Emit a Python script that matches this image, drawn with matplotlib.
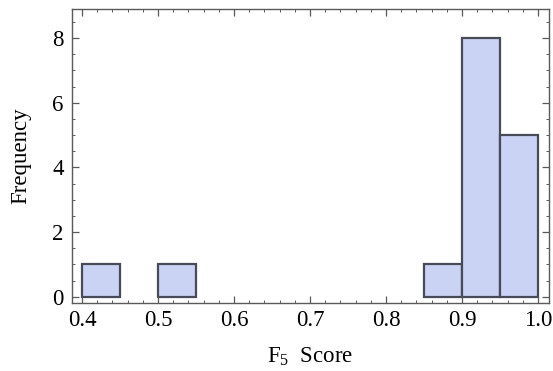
import numpy as np
import matplotlib.pyplot as plt
from matplotlib.ticker import MultipleLocator

# histogram bins (left edges) and counts
bin_edges = [0.40, 0.45, 0.50, 0.55, 0.60, 0.65, 0.70, 0.75, 0.80, 0.85, 0.90, 0.95, 1.00]
counts = [1, 0, 1, 0, 0, 0, 0, 0, 0, 1, 8, 5]
xticks = [0.4, 0.5, 0.6, 0.7, 0.8, 0.9, 1.0]
xticklabels = ['0.4', '0.5', '0.6', '0.7', '0.8', '0.9', '1.0']

plt.rcParams['font.family'] = 'Liberation Serif'
plt.rcParams['mathtext.fontset'] = 'custom'
plt.rcParams['mathtext.rm'] = 'Liberation Serif'
plt.rcParams['mathtext.it'] = 'Liberation Serif'

fig = plt.figure(figsize=(5.53, 3.71), dpi=100)
ax = fig.add_axes([0.1302, 0.1841, 0.8626, 0.7909])

lefts = np.array(bin_edges[:-1])
widths = np.diff(bin_edges)
for l, w, c in zip(lefts, widths, counts):
    if c > 0:
        ax.bar(l, c, width=w, align='edge', color='#cbd3f4',
               edgecolor='#474b57', linewidth=1.6)

ax.set_xlim(0.3868, 1.0145)
ax.set_ylim(-0.186, 8.89)
ax.xaxis.set_minor_locator(MultipleLocator(0.02))
ax.yaxis.set_major_locator(MultipleLocator(2))
ax.yaxis.set_minor_locator(MultipleLocator(0.5))
ax.set_xticks(xticks)
ax.set_xticklabels(xticklabels)

for s in ax.spines.values():
    s.set_color('#5a5a5a')
    s.set_linewidth(1.0)
ax.tick_params(which='both', direction='in', top=True, right=True,
               color='#5a5a5a', labelsize=16.5, labelcolor='black')
ax.tick_params(axis='x', pad=5)
ax.tick_params(axis='y', pad=6)
ax.tick_params(which='major', length=5, width=0.9)
ax.tick_params(which='minor', length=2.5, width=0.7)

ax.set_xlabel('F$_{5}$  Score', fontsize=16.5, labelpad=11)
ax.set_ylabel('Frequency', fontsize=16.5, labelpad=15)

fig.savefig('out.png', dpi=100)
